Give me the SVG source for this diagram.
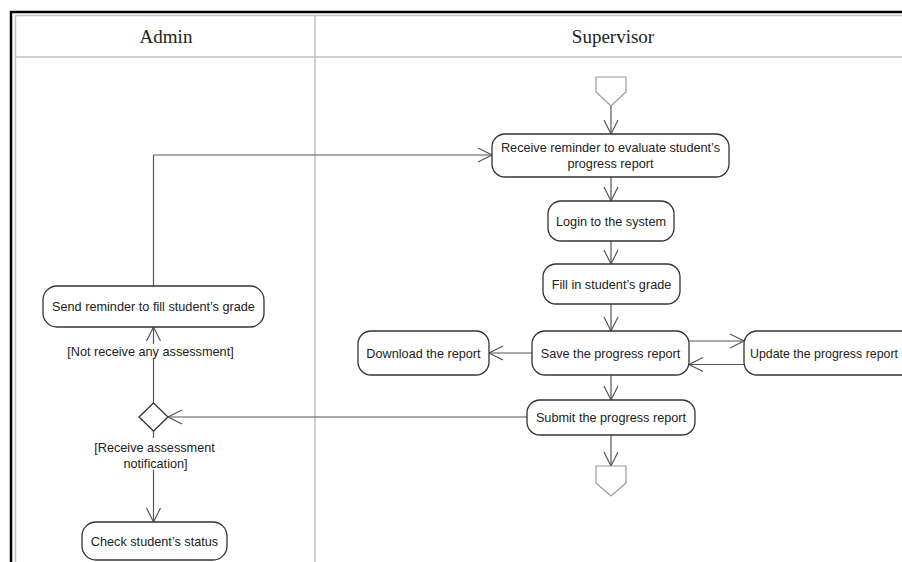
<svg xmlns="http://www.w3.org/2000/svg" width="902" height="562" viewBox="0 0 902 562">
<style>
.lane{stroke:#c0c0c0;stroke-width:1.5;fill:none}
.frame{stroke:#000;stroke-width:2.5;fill:none}
.hdr{font-family:"Liberation Serif",serif;font-size:19px;fill:#222;text-anchor:middle}
.node rect{fill:#fff;stroke:#333;stroke-width:1.3}
.node text,.lbl{font-family:"Liberation Sans",Arial,sans-serif;font-size:12.7px;fill:#222;text-anchor:middle}
.term{fill:#fff;stroke:#999;stroke-width:1.2}
.edge{stroke:#555;stroke-width:1.2;fill:none;marker-end:url(#arr)}
.dia{fill:#fff;stroke:#333;stroke-width:1.3}
</style>
<defs>
<marker id="arr" markerUnits="userSpaceOnUse" markerWidth="18" markerHeight="18" viewBox="-16 -9 18 18" refX="0" refY="0" orient="auto">
<path d="M-14,-7 L0,0 L-14,7" fill="none" stroke="#555" stroke-width="1.2"/>
</marker>
</defs>
<rect width="902" height="562" fill="#fff"/>
<!-- frame / lanes -->
<g id="lanes">
<path class="frame" d="M11,562 V12 H902"/>
<path class="lane" d="M15.5,562 V15.5 H902"/>
<line class="lane" x1="15.5" y1="57" x2="902" y2="57"/>
<line class="lane" x1="315" y1="15.5" x2="315" y2="562"/>
<text class="hdr" x="166" y="43">Admin</text>
<text class="hdr" x="613" y="43">Supervisor</text>
</g>
<!-- connectors -->
<g id="connectors">
<path class="edge" d="M611,106 V134"/>
<path class="edge" d="M611,177 V201"/>
<path class="edge" d="M611,241 V264"/>
<path class="edge" d="M611,304 V331"/>
<path class="edge" d="M532,353 H489"/>
<path class="edge" d="M689,341 H744"/>
<path class="edge" d="M744,364.5 H689"/>
<path class="edge" d="M611,375 V400"/>
<path class="edge" d="M527,417 H168"/>
<path class="edge" d="M611,435 V466"/>
<path class="edge" d="M153.5,403 V327"/>
<path class="edge" d="M153.5,286 V155 H492"/>
<path class="edge" d="M153.5,431 V522"/>
</g>
<!-- guard labels -->
<g id="labels">
<rect x="64" y="344" width="174" height="15" fill="#fff"/>
<text class="lbl" x="150.5" y="356">[Not receive any assessment]</text>
<rect x="90" y="438" width="129" height="32" fill="#fff"/>
<text class="lbl" x="154.5" y="451.5">[Receive assessment</text>
<text class="lbl" x="155.5" y="467.5">notification]</text>
</g>
<g id="start"><polygon class="term" points="596,77 626,77 626,92 611,106 596,92"/></g>
<g id="end"><polygon class="term" points="596,466 626,466 626,483 611,496 596,483"/></g>
<g id="receive" class="node"><rect x="492" y="134" width="237" height="43" rx="13"/>
<text x="610.5" y="152">Receive reminder to evaluate student’s</text>
<text x="610.5" y="167.5">progress report</text></g>
<g id="login" class="node"><rect x="548" y="201" width="126" height="40" rx="13"/>
<text x="611" y="225.5">Login to the system</text></g>
<g id="fill" class="node"><rect x="543" y="264" width="137" height="40" rx="13"/>
<text x="611.5" y="288.5">Fill in student’s grade</text></g>
<g id="save" class="node"><rect x="532" y="331" width="157" height="44" rx="13"/>
<text x="610.5" y="357.5">Save the progress report</text></g>
<g id="download" class="node"><rect x="358" y="331" width="131" height="44" rx="13"/>
<text x="423.5" y="357.5">Download the report</text></g>
<g id="update" class="node"><rect x="744" y="331" width="172" height="44" rx="13"/>
<text x="750" y="357.5" style="text-anchor:start;font-size:12.2px" textLength="148" lengthAdjust="spacingAndGlyphs">Update the progress report</text></g>
<g id="submit" class="node"><rect x="527" y="400" width="168" height="35" rx="13"/>
<text x="611" y="422">Submit the progress report</text></g>
<g id="decision"><polygon class="dia" points="153.5,403 168,417 153.5,431 139,417"/></g>
<g id="sendReminder" class="node"><rect x="43" y="286" width="221" height="41" rx="14"/>
<text x="153.5" y="310.5">Send reminder to fill student’s grade</text></g>
<g id="check" class="node"><rect x="82" y="522" width="145" height="38" rx="14"/>
<text x="154.5" y="546">Check student’s status</text></g>
</svg>
